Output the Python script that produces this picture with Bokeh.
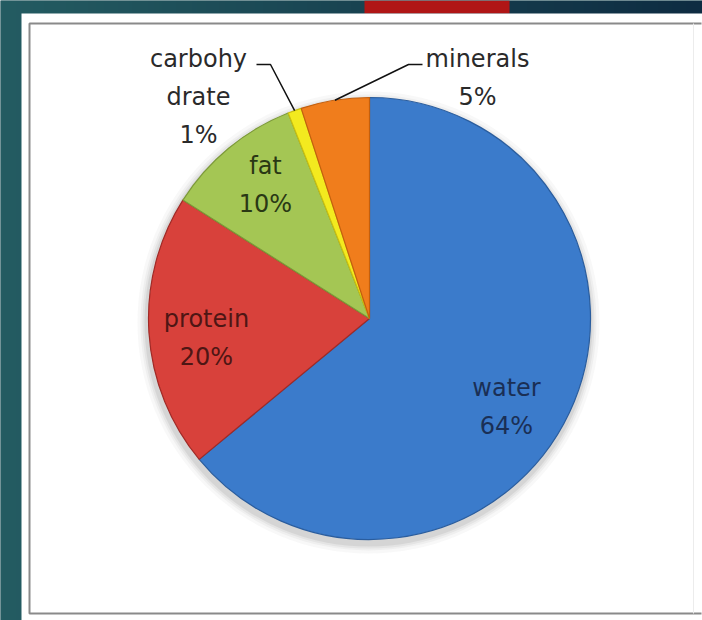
import numpy as np
from bokeh.plotting import figure
from bokeh.models import Range1d, ColumnDataSource
from bokeh.embed import file_html
from bokeh.resources import INLINE
from bokeh.core.properties import value

# ---- data ----
categories = ["water", "protein", "fat", "carbohy\ndrate", "minerals"]
percents = [64, 20, 10, 1, 5]
colors = ["#3b7bcb", "#d8413b", "#a4c654", "#f3ea1f", "#f07d1c"]
edge_colors = ["#2a5d9e", "#a12a26", "#7c9a38", "#c9bf10", "#c35f0e"]
text_colors = ["#1a2f55", "#4e1614", "#2a3814", "#2a2a2a", "#2a2a2a"]

W, H = 702, 620
CX, CY, R = 369, 318, 221  # pie centre/radius in pixel coords (y down)


def Y(y):
    return H - y


p = figure(width=W, height=H, x_range=Range1d(0, W), y_range=Range1d(0, H),
           output_backend="svg", toolbar_location=None, min_border=0)
p.axis.visible = False
p.grid.visible = False
p.outline_line_color = None
p.background_fill_color = "#1f5259"
p.border_fill_color = "#1f5259"

# background gradient (teal -> navy)
n = 256
t = np.linspace(0, 1, n)
c0 = np.array([0x24, 0x5c, 0x62])
c1 = np.array([0x0e, 0x2c, 0x42])
img = np.zeros((1, n), dtype=np.uint32)
view = img.view(dtype=np.uint8).reshape((1, n, 4))
for i in range(n):
    col = c0 + (c1 - c0) * t[i]
    view[0, i, 0:3] = col.astype(np.uint8)
    view[0, i, 3] = 255
p.image_rgba(image=[img], x=0, y=0, dw=W, dh=H)

# red tab at top
p.quad(left=364, right=509, top=Y(0), bottom=Y(13),
       fill_color="#b01616", line_color=None)
# white panel
p.quad(left=21, right=W, top=Y(13), bottom=Y(H),
       fill_color="white", line_color=None)
# chart border (left, top, bottom solid; right faint)
p.line(x=[701, 29, 29, 701], y=[Y(23), Y(23), Y(613), Y(613)],
       line_color="#8a8a8a", line_width=2)
p.line(x=[693, 693], y=[Y(23), Y(613)], line_color="#ececec", line_width=1)

# ---- pie ----
vals = np.array(percents, dtype=float)
frac = vals / vals.sum()
cum = np.concatenate([[0], np.cumsum(frac)])
start = np.pi / 2 - 2 * np.pi * cum[1:]
end = np.pi / 2 - 2 * np.pi * cum[:-1]
mid = (start + end) / 2

# soft shadow
for k, a in zip([10, 7, 5, 3], [0.04, 0.05, 0.07, 0.10]):
    p.circle(x=CX - 1, y=Y(CY + 4), radius=R + k, fill_color="#555555",
             fill_alpha=a, line_color=None)

src = ColumnDataSource(dict(start=start, end=end, color=colors, edge=edge_colors))
p.wedge(x=CX, y=Y(CY), radius=R, start_angle="start", end_angle="end",
        fill_color="color", line_color="edge", line_width=1.2, source=src)

# ---- labels ----
label_pos = {
    "water": (506, 387),
    "protein": (206, 318),
    "fat": (265, 165),
    "carbohy\ndrate": (198, 58),
    "minerals": (477, 58),
}
line_gap = 38
for cat, pct, tc in zip(categories, percents, text_colors):
    lx, ly = label_pos[cat]
    lines = cat.split("\n") + [f"{pct}%"]
    ys = [Y(ly + i * line_gap) for i in range(len(lines))]
    p.text(x=[lx] * len(lines), y=ys, text=lines, text_align="center",
           text_baseline="middle", text_font=value("DejaVu Sans"),
           text_font_size="24px", text_color=tc)

# leader lines for the small outside-labelled slices
leaders = {
    "carbohy\ndrate": (256, 270, 64),
    "minerals": (422, 408, 64),
}
for i, cat in enumerate(categories):
    if cat in leaders:
        x0, x1, yl = leaders[cat]
        ex = CX + R * np.cos(mid[i])
        ey = Y(CY) + R * np.sin(mid[i])
        p.line(x=[x0, x1, ex], y=[Y(yl), Y(yl), ey], line_color="#111111",
               line_width=1.5)

open("out.html", "w").write(file_html(p, INLINE))
